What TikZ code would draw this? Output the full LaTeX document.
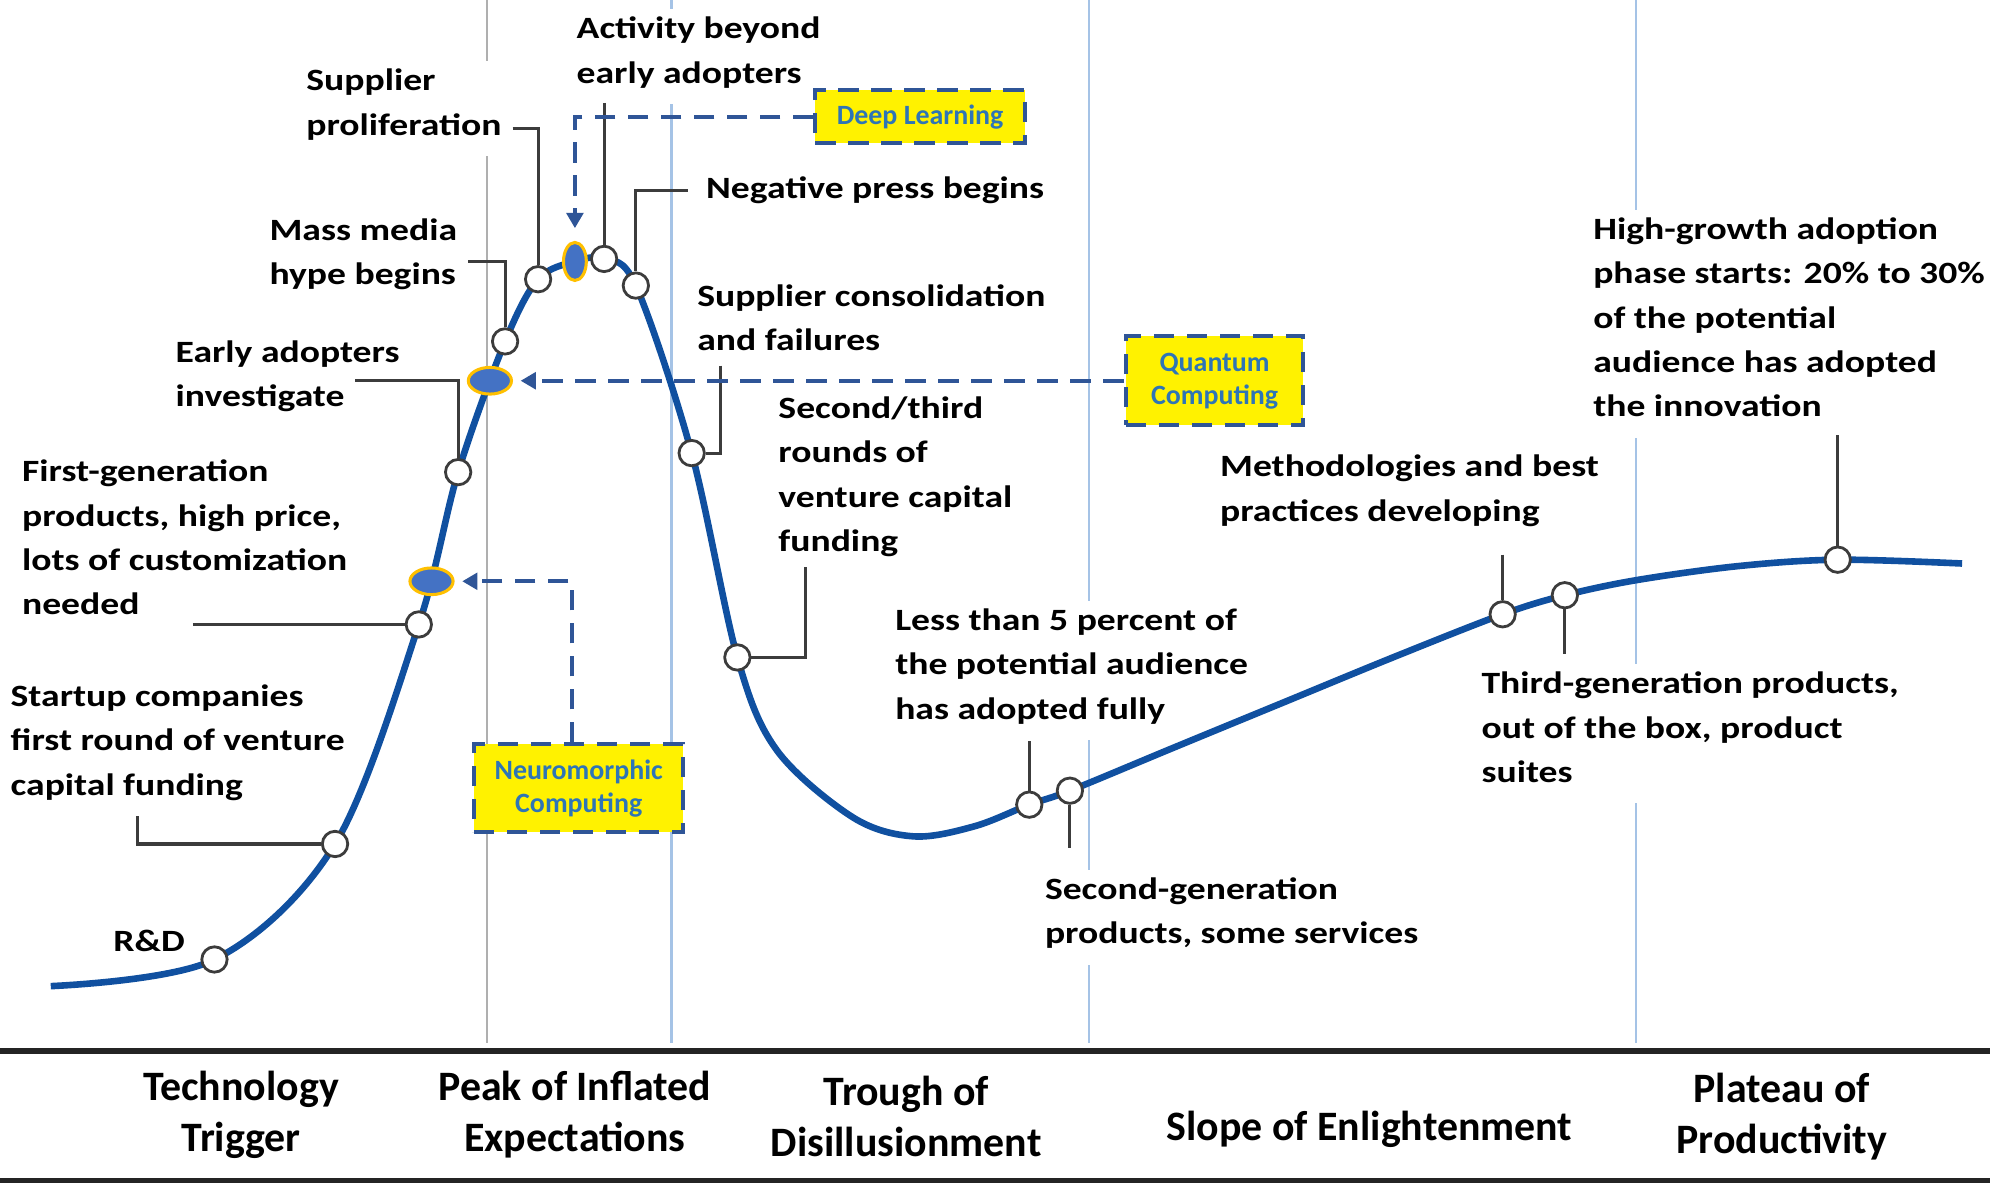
\documentclass[tikz,border=0pt]{standalone}
\usepackage{fontspec}
\setmainfont{Carlito}
\newfontfamily\lblfont{Carlito}[FakeStretch=1.215]
\usetikzlibrary{shapes.geometric,arrows.meta}
\definecolor{hypeblue}{RGB}{16,80,160}
\definecolor{leadgray}{RGB}{60,60,60}
\definecolor{dashblue}{RGB}{47,85,151}
\definecolor{boxblue}{RGB}{46,117,182}
\definecolor{dotblue}{RGB}{68,114,196}
\definecolor{dotgold}{RGB}{255,192,0}
\definecolor{divgray}{RGB}{175,175,175}
\definecolor{divblue}{RGB}{165,195,230}

\begin{document}
\begin{tikzpicture}[x=0.5pt,y=-0.5pt,
  lbl/.style={font=\lblfont\bfseries\fontsize{12.2}{17.5}\selectfont,align=left,anchor=north west,
    xshift=-3.5pt,yshift=12.25pt,inner sep=3pt,fill=white,execute at begin node=\strut},
  mlbl/.style={lbl,yshift=-4.75pt},
  phaselbl/.style={font=\bfseries\fontsize{16.5}{20}\selectfont,align=center,anchor=north,
    yshift=14pt,inner sep=0pt,execute at begin node=\strut},
  mphaselbl/.style={phaselbl,yshift=-2.2pt},
  hype/.style={draw=hypeblue,line width=2.6pt},
  leader/.style={draw=leadgray,line width=1.2pt},
  milestone/.style={circle,draw=leadgray,fill=white,line width=1.1pt,minimum size=10pt,inner sep=0pt},
  techdot/.style={ellipse,draw=dotgold,fill=dotblue,line width=1.2pt,inner sep=0pt,
    minimum width=17pt,minimum height=10.5pt},
  techbox/.style={draw=dashblue,fill=yellow,line width=1.6pt,dash pattern=on 8pt off 5pt,
    text=boxblue,font=\bfseries\fontsize{11}{13}\selectfont,align=center,inner sep=0pt},
  dlink/.style={draw=dashblue,line width=1.6pt,dash pattern=on 8pt off 5pt,
    -{Triangle[length=6pt,width=6.5pt]},shorten >=3pt}]
\fill[white] (0,0) rectangle (1568,933);
\useasboundingbox (0,0) rectangle (1568,933);

% phase dividers and frame
\draw[divgray,line width=0.9pt] (384,0) -- (384,822);
\foreach \x in {529,858,1289}
  \draw[divblue,line width=0.9pt] (\x,0) -- (\x,822);
\draw[leadgray!60!black,line width=2.4pt] (0,828) -- (1568,828);
\draw[leadgray!60!black,line width=2pt] (0,930) -- (1568,930);

\node[mphaselbl] (ph-trigger) at (190,867) {Technology\\Trigger};
\node[mphaselbl] (ph-peak) at (453,867) {Peak of Inflated\\Expectations};
\node[mphaselbl] (ph-trough) at (714,871) {Trough of\\Disillusionment};
\node[phaselbl] (ph-slope) at (1079,898) {Slope of Enlightenment};
\node[mphaselbl] (ph-plateau) at (1404,869) {Plateau of\\Productivity};

% labels
\node[lbl] (rd) at (90,743) {R\&D};
\node[mlbl] (startup) at (9,548) {Startup companies\\first round of venture\\capital funding};
\node[mlbl] (firstgen) at (18,371) {First-generation\\products, high price,\\lots of customization\\needed};
\node[mlbl] (early) at (139,277) {Early adopters\\investigate};
\node[mlbl] (mass) at (213,181) {Mass media\\hype begins};
\node[mlbl] (supprol) at (242,63) {Supplier\\proliferation};
\node[mlbl] (activity) at (455,22) {Activity beyond\\early adopters};
\node[lbl] (negative) at (557,150) {Negative press begins};
\node[mlbl] (consol) at (550,233) {Supplier consolidation\\and failures};
\node[mlbl] (secthird) at (614,321) {Second/third\\rounds of\\venture capital\\funding};
\node[mlbl] (lessfive) at (706,488) {Less than 5 percent of\\the potential audience\\has adopted fully};
\node[mlbl] (secgen) at (824,700) {Second-generation\\products, some services};
\node[mlbl] (method) at (962,367) {Methodologies and best\\practices developing};
\node[mlbl] (thirdgen) at (1168,538) {Third-generation products,\\out of the box, product\\suites};
\node[mlbl] (highgrowth) at (1256,180) {High-growth adoption\\phase starts: 20\% to 30\%\\of the potential\\audience has adopted\\the innovation};

% hype curve
\draw[hype] plot[smooth,tension=0.55] coordinates {(40,777) (169,756) (264,665) (330,492)
  (361,372) (398,269) (424,220) (453,206) (476,204) (501,225) (545,357) (581,518) (612,591)
  (672,644) (720,659) (768,651) (811,634) (843,623) (925,589) (1010,554) (1100,517) (1184,484)
  (1233,469) (1290,457) (1370,446) (1448,441) (1546,444)};

\node[milestone] (c-rd) at (169,756) {};
\node[milestone] (c-startup) at (264,665) {};
\node[milestone] (c-firstgen) at (330,492) {};
\node[milestone] (c-early) at (361,372) {};
\node[milestone] (c-mass) at (398,269) {};
\node[milestone] (c-supprol) at (424,220) {};
\node[milestone] (c-activity) at (476,204) {};
\node[milestone] (c-negative) at (501,225) {};
\node[milestone] (c-consol) at (545,357) {};
\node[milestone] (c-secthird) at (581,518) {};
\node[milestone] (c-lessfive) at (811,634) {};
\node[milestone] (c-secgen) at (843,623) {};
\node[milestone] (c-method) at (1184,484) {};
\node[milestone] (c-thirdgen) at (1233,469) {};
\node[milestone] (c-highgrowth) at (1448,441) {};

\node[techdot] (e-neuro) at (340,458) {};
\node[techdot] (e-quantum) at (386,300) {};
\node[techdot,minimum width=9pt,minimum height=15pt] (e-deep) at (453,206) {};

% leaders
\coordinate (l-startup) at (108,643);
\coordinate (l-firstgen) at (152,492);
\coordinate (l-early) at (280,300);
\coordinate (l-mass) at (369,206);
\coordinate (l-supprol) at (404,101);
\coordinate (l-activity) at (476,81);
\coordinate (l-negative) at (542,150);
\coordinate (l-consol) at (568,288);
\coordinate (l-secthird) at (635,447);
\coordinate (l-lessfive) at (811,584);
\coordinate (l-secgen) at (843,668);
\coordinate (l-method) at (1184,437);
\coordinate (l-thirdgen) at (1233,515);
\coordinate (l-highgrowth) at (1448,343);
\draw[leader] (l-startup) |- (c-startup);
\draw[leader] (l-firstgen) -- (c-firstgen);
\draw[leader] (l-early) -| (c-early);
\draw[leader] (l-mass) -| (c-mass);
\draw[leader] (l-supprol) -| (c-supprol);
\draw[leader] (l-activity) -- (c-activity);
\draw[leader] (l-negative) -| (c-negative);
\draw[leader] (l-consol) |- (c-consol);
\draw[leader] (l-secthird) |- (c-secthird);
\draw[leader] (l-lessfive) -- (c-lessfive);
\draw[leader] (c-secgen) -- (l-secgen);
\draw[leader] (l-method) -- (c-method);
\draw[leader] (c-thirdgen) -- (l-thirdgen);
\draw[leader] (l-highgrowth) -- (c-highgrowth);

% technologies
\node[techbox,minimum width=82.5pt,minimum height=21pt] (b-deep) at (725,92) {Deep Learning};
\node[techbox,minimum width=70pt,minimum height=35pt] (b-quantum) at (957,300) {Quantum\\Computing};
\node[techbox,minimum width=82.5pt,minimum height=34.5pt] (b-neuro) at (456,621) {Neuromorphic\\Computing};
\draw[dlink,shorten >=5pt] (b-deep.west) -| (e-deep);
\draw[dlink] (b-quantum.west) -- (e-quantum);
\draw[dlink] ([xshift=-2.5pt]b-neuro.north) |- (e-neuro);
\end{tikzpicture}
\end{document}
